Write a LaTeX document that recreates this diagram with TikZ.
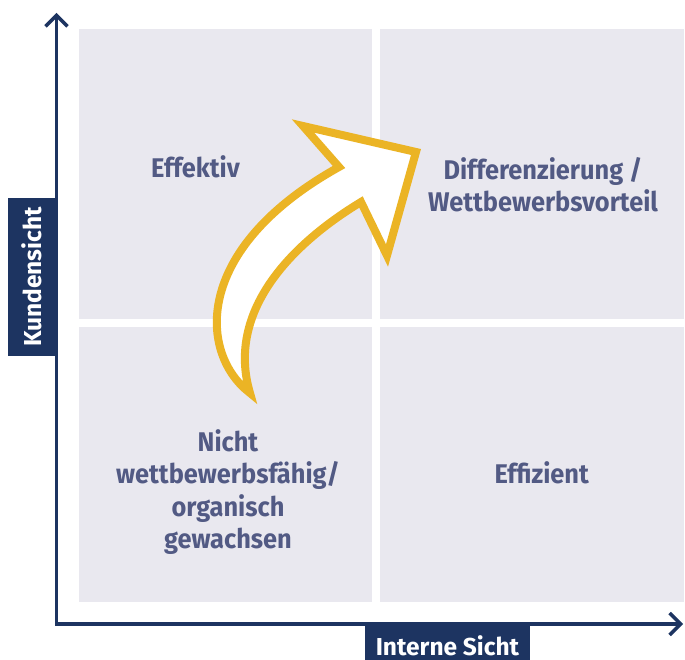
\documentclass[tikz,border=0pt]{standalone}
\usepackage{fontspec}
\setmainfont{Fira Sans}
\newfontfamily\quadfont{Fira Sans}[FakeStretch=0.94]
\usetikzlibrary{arrows.meta}
\definecolor{navy}{HTML}{1D3461}
\definecolor{slate}{HTML}{525A84}
\definecolor{panel}{HTML}{E9E8EF}
\definecolor{gold}{HTML}{EBB425}
\begin{document}
\begin{tikzpicture}[x=1pt,y=-1pt,
  panelbox/.style={fill=panel, draw=none, inner sep=0pt, anchor=north west},
  quadlabel/.style={text=slate, font=\quadfont\bfseries\fontsize{27}{32.5}\selectfont,
    align=center, inner sep=0pt},
  axislabel/.style={fill=navy, text=white, font=\bfseries\fontsize{24.5}{28}\selectfont,
    inner sep=0pt},
  axisline/.style={draw=navy, line width=3.5pt,
    {Straight Barb[length=11pt,width=22pt]}-{Straight Barb[length=11pt,width=22pt]}},
  bigarrow/.style={fill=white, draw=gold, line width=8pt, line join=miter, miter limit=12}]
\useasboundingbox (0,0) rectangle (685,660);

% four quadrants
\node[panelbox, minimum width=293pt, minimum height=289.3pt] (qTL) at (78.7,29) {};
\node[panelbox, minimum width=304pt, minimum height=289.3pt] (qTR) at (380,29) {};
\node[panelbox, minimum width=293pt, minimum height=275pt] (qBL) at (78.7,326.7) {};
\node[panelbox, minimum width=304pt, minimum height=275pt] (qBR) at (380,326.7) {};

% axes
\coordinate (origin) at (56.5,624);
\coordinate (ytip) at (56.5,13);
\coordinate (xtip) at (683,624);
\draw[axisline] (ytip) -- (origin) -- (xtip);

% axis labels
\node[axislabel, rotate=90, minimum width=158pt, minimum height=47pt] (kunde) at (31.5,277) {Kundensicht};
\node[axislabel, minimum width=165pt, minimum height=38pt, text height=31pt, text depth=3pt]
  (intern) at (447.5,641) {Interne Sicht};

% quadrant labels
\node[quadlabel, anchor=base] (effektiv) at (195.5,177.3) {Effektiv};
\node[quadlabel] (diff) at (543,184.7) {Differenzierung /\\Wettbewerbsvorteil};
\node[quadlabel] (nicht) at (228,492) {Nicht\\wettbewerbsfähig/\\organisch\\gewachsen};
\node[quadlabel, anchor=base] (effizient) at (541.7,483.3) {Effizient};

% curved arrow
\draw[bigarrow] (303,126) -- (416,152) -- (387,255.5) -- (361,202)
  .. controls (290,245) and (226,312) .. (250,393)
  .. controls (200,355) and (190,250) .. (339,167) -- cycle;
\end{tikzpicture}
\end{document}
